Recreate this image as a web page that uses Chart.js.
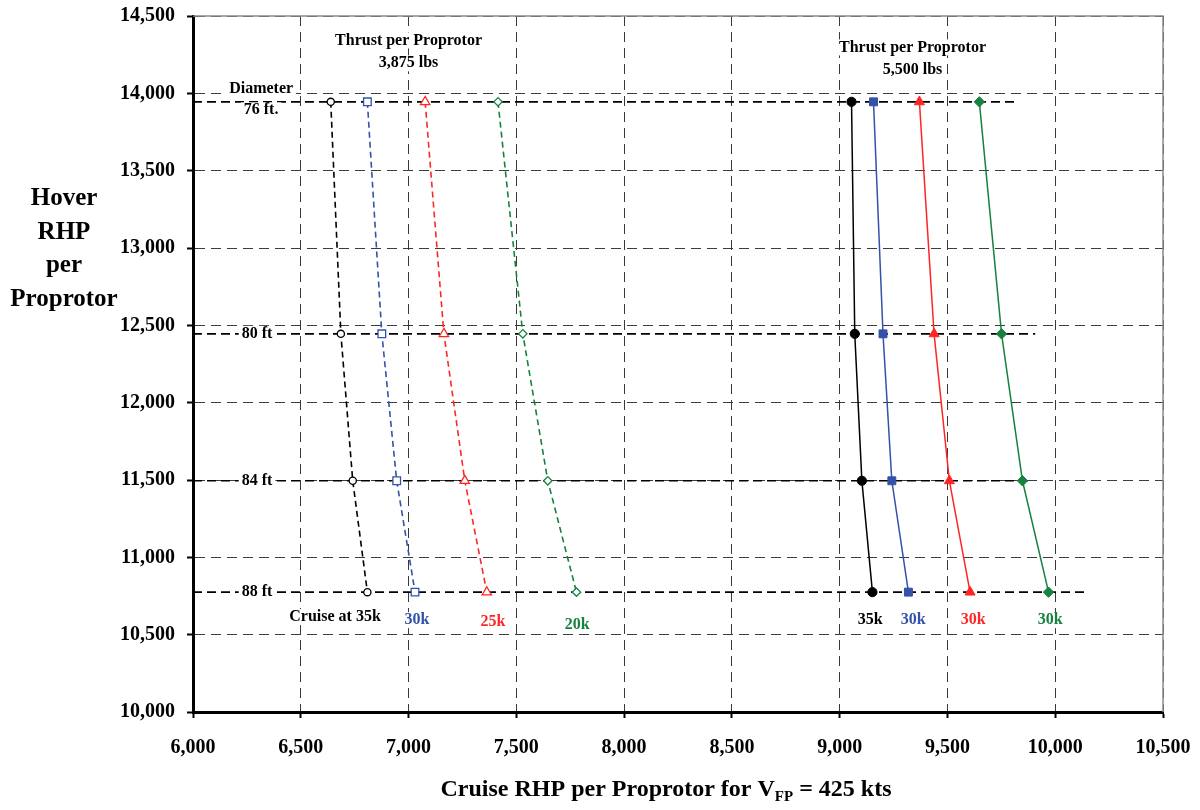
<!DOCTYPE html>
<html>
<head>
<meta charset="utf-8">
<script src="https://cdn.jsdelivr.net/npm/chart.js@4.4.0/dist/chart.umd.min.js"></script>
<style>
  html, body { margin: 0; padding: 0; background: #fff; }
</style>
</head>
<body>
<canvas id="rhp_chart" width="1200" height="810"></canvas>
<script>
// hover RHP per proprotor, one value per rotor diameter (76, 80, 84, 88 ft)
const hoverRHP = [13945, 12445, 11495, 10775];
const diameterLabels = ['76 ft.', '80 ft', '84 ft', '88 ft'];

// cruise RHP, thrust per proprotor 3,875 lbs (open markers, dashed)
const t3875_35k = [6639, 6686, 6741, 6809];
const t3875_30k = [6809, 6876, 6945, 7030];
const t3875_25k = [7077, 7164, 7261, 7363];
const t3875_20k = [7415, 7530, 7646, 7779];

// cruise RHP, thrust per proprotor 5,500 lbs (filled markers, solid)
const t5500_35k = [9055, 9070, 9103, 9152];
const t5500_30kBlue = [9157, 9201, 9242, 9319];
const t5500_30kRed = [9370, 9438, 9509, 9605];
const t5500_30kGreen = [9648, 9751, 9848, 9969];

// how far each diameter reference line runs along the cruise axis
const diameterLineStart = [6000, 6000, 6000, 6000];
const diameterLineEnd = [9815, 9907, 9884, 10140];

const BLACK = '#000000', BLUE = '#3452a8', RED = '#ff2626', GREEN = '#16823f';
const FONT = '"Liberation Serif", "Times New Roman", serif';

const pts = xs => xs.map((x, i) => ({ x: x, y: hoverRHP[i] }));

function openSeries(xs, color, style, r) {
  return {
    data: pts(xs), showLine: true, borderColor: color, borderWidth: 1.6,
    borderDash: [6, 4], pointStyle: style, pointRadius: r, pointBorderWidth: 1.3,
    pointBackgroundColor: '#fff', pointBorderColor: color, tension: 0
  };
}
function solidSeries(xs, color, style, r) {
  return {
    data: pts(xs), showLine: true, borderColor: color, borderWidth: 1.5,
    pointStyle: style, pointRadius: r, pointBorderWidth: 1,
    pointBackgroundColor: color, pointBorderColor: color, tension: 0
  };
}

const datasets = [
  openSeries(t3875_35k, BLACK, 'circle', 3.6),
  openSeries(t3875_30k, BLUE, 'rect', 5.4),
  openSeries(t3875_25k, RED, 'triangle', 5.4),
  openSeries(t3875_20k, GREEN, 'rectRot', 4.2),
  solidSeries(t5500_35k, BLACK, 'circle', 4.6),
  solidSeries(t5500_30kBlue, BLUE, 'rect', 5.6),
  solidSeries(t5500_30kRed, RED, 'triangle', 5.8),
  solidSeries(t5500_30kGreen, GREEN, 'rectRot', 5.2)
];
// diameter reference lines go last so the series draw on top
hoverRHP.forEach((h, i) => {
  datasets.push({
    data: [{ x: diameterLineStart[i], y: h }, { x: diameterLineEnd[i], y: h }],
    showLine: true, borderColor: '#000', borderWidth: 1.6, borderDash: [9, 5],
    pointRadius: 0, tension: 0
  });
});

// text notes placed in data units
const notes = [
  { text: 'Thrust per Proprotor', x: 7000, y: 14342, color: BLACK },
  { text: '3,875 lbs', x: 7000, y: 14194, color: BLACK },
  { text: 'Thrust per Proprotor', x: 9338, y: 14297, color: BLACK },
  { text: '5,500 lbs', x: 9338, y: 14149, color: BLACK },
  { text: 'Diameter', x: 6316, y: 14032, color: BLACK },
  { text: diameterLabels[0], x: 6316, y: 13890, color: BLACK },
  { text: diameterLabels[1], x: 6297, y: hoverRHP[1], color: BLACK },
  { text: diameterLabels[2], x: 6297, y: hoverRHP[2], color: BLACK },
  { text: diameterLabels[3], x: 6297, y: hoverRHP[3], color: BLACK },
  { text: 'Cruise at 35k', x: 6659, y: 10614, color: BLACK },
  { text: '30k', x: 7039, y: 10594, color: BLUE },
  { text: '25k', x: 7392, y: 10582, color: RED },
  { text: '20k', x: 7782, y: 10562, color: GREEN },
  { text: '35k', x: 9142, y: 10594, color: BLACK },
  { text: '30k', x: 9341, y: 10594, color: BLUE },
  { text: '30k', x: 9620, y: 10594, color: RED },
  { text: '30k', x: 9977, y: 10594, color: GREEN }
];

const notesPlugin = {
  id: 'notes',
  afterDatasetsDraw(chart) {
    const { ctx, chartArea: a, scales: { x, y } } = chart;
    ctx.save();
    // thin grey frame on top and right
    ctx.strokeStyle = '#8a8a8a';
    ctx.lineWidth = 1.5;
    ctx.beginPath();
    ctx.moveTo(a.left, a.top);
    ctx.lineTo(a.right, a.top);
    ctx.lineTo(a.right, a.bottom);
    ctx.stroke();

    ctx.font = 'bold 16px ' + FONT;
    ctx.textAlign = 'center';
    ctx.textBaseline = 'middle';
    notes.forEach(n => {
      const px = x.getPixelForValue(n.x), py = y.getPixelForValue(n.y);
      const w = ctx.measureText(n.text).width;
      ctx.fillStyle = '#fff';
      ctx.fillRect(px - w / 2 - 3, py - 8, w + 6, 16);
      ctx.fillStyle = n.color;
      ctx.fillText(n.text, px, py);
    });
    ctx.restore();
  },
  afterDraw(chart) {
    const ctx = chart.ctx;
    ctx.save();
    ctx.fillStyle = '#000';
    ctx.textAlign = 'center';
    ctx.textBaseline = 'alphabetic';
    ctx.font = 'bold 25px ' + FONT;
    ['Hover', 'RHP', 'per', 'Proprotor'].forEach((t, i) => {
      ctx.fillText(t, 64, 205 + i * 33.5);
    });

    // x title with subscript
    const p1 = 'Cruise RHP per Proprotor for V', sub = 'FP', p3 = ' = 425 kts';
    ctx.textAlign = 'left';
    ctx.font = 'bold 24px ' + FONT;
    const w1 = ctx.measureText(p1).width, w3 = ctx.measureText(p3).width;
    ctx.font = 'bold 15px ' + FONT;
    const w2 = ctx.measureText(sub).width;
    let sx = 666 - (w1 + w2 + w3) / 2;
    ctx.font = 'bold 24px ' + FONT;
    ctx.fillText(p1, sx, 796);
    ctx.font = 'bold 15px ' + FONT;
    ctx.fillText(sub, sx + w1, 801);
    ctx.font = 'bold 24px ' + FONT;
    ctx.fillText(p3, sx + w1 + w2, 796);
    ctx.restore();
  }
};

const tickFont = { family: FONT, size: 20, weight: 'bold' };
const gridOpts = { color: '#3a3a3a', lineWidth: 1, tickLength: 6, tickColor: '#000', tickWidth: 2 };
const borderOpts = { display: true, color: '#000', width: 3, dash: [10, 6] };

// fixed plot box: drop the label overflow padding chart.js adds
function noOverflow(s) {
  s.paddingTop = 0; s.paddingBottom = 0; s.paddingLeft = 0; s.paddingRight = 0;
}

const ctx = document.getElementById('rhp_chart');
const chart = new Chart(ctx, {
  type: 'scatter',
  data: { datasets: datasets },
  options: {
    responsive: false,
    animation: false,
    layout: { padding: { left: 0, right: 37, top: 16, bottom: 0 } },
    plugins: { legend: { display: false }, tooltip: { enabled: false } },
    scales: {
      x: {
        type: 'linear', min: 6000, max: 10500,
        ticks: { stepSize: 500, font: tickFont, color: '#000', padding: 18, maxRotation: 0 },
        grid: gridOpts, border: borderOpts,
        afterFit(s) { s.height = 98; noOverflow(s); }
      },
      y: {
        type: 'linear', min: 10000, max: 14500,
        ticks: { stepSize: 500, font: tickFont, color: '#000', padding: 12 },
        grid: gridOpts, border: borderOpts,
        afterFit(s) { s.width = 193; noOverflow(s); }
      }
    }
  },
  plugins: [notesPlugin]
});
</script>
</body>
</html>
